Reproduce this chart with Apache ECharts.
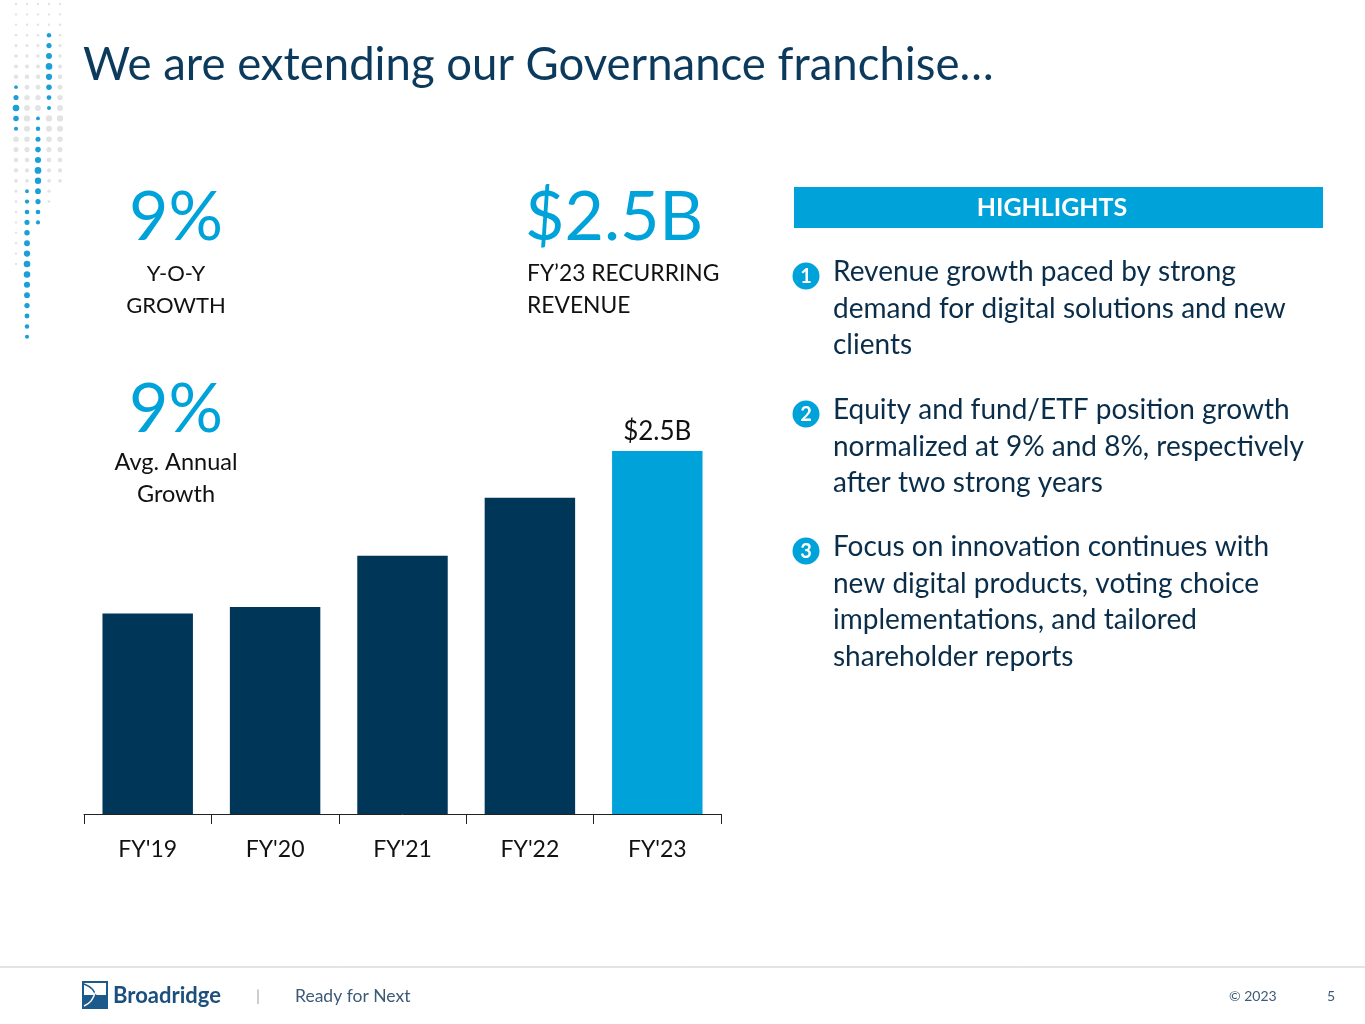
<!DOCTYPE html>
<html>
<head>
<meta charset="utf-8">
<script src="https://cdn.jsdelivr.net/npm/echarts@6/dist/echarts.min.js"></script>
<style>
  html, body { margin: 0; padding: 0; background: #fff; }
  #chart { width: 1365px; height: 1024px; }
</style>
</head>
<body>
<div id="chart"></div>
<script>
// recurring revenue, $B
var years = ["FY'19", "FY'20", "FY'21", "FY'22", "FY'23"];
var revenue = [1.77, 1.80, 2.03, 2.29, 2.50];
var barLabels = ['', '', '', '', '$2.5B'];

var highlights = [
  ['Revenue growth paced by strong', 'demand for digital solutions and new', 'clients'],
  ['Equity and fund/ETF position growth', 'normalized at 9% and 8%, respectively', 'after two strong years'],
  ['Focus on innovation continues with', 'new digital products, voting choice', 'implementations, and tailored', 'shareholder reports']
];

var NAVY = '#003658';
var CYAN = '#00a3d9';
var FONT = 'Lato, "Noto Sans", sans-serif';

var chart = echarts.init(document.getElementById('chart'));

// plain text element, left aligned unless told otherwise
function txt(x, y, text, size, color, align, weight) {
  return {
    type: 'text', x: x, y: y,
    style: {
      text: text, fontSize: size, fill: color, fontFamily: FONT,
      textAlign: align || 'left', textVerticalAlign: 'middle', fontWeight: weight || 'normal'
    }
  };
}

var graphic = [];
// title
graphic.push(txt(83, 65, 'We are extending our Governance franchise…', 45.5, '#0b3a5c'));

// KPIs
graphic.push(txt(176, 218, '9%', 68, CYAN, 'center'));
graphic.push(txt(176, 274, 'Y-O-Y', 22, '#111', 'center'));
graphic.push(txt(176, 306, 'GROWTH', 22, '#111', 'center'));
graphic.push(txt(176, 410, '9%', 68, CYAN, 'center'));
graphic.push(txt(176, 462, 'Avg. Annual', 23.5, '#111', 'center'));
graphic.push(txt(176, 494, 'Growth', 23.5, '#111', 'center'));
graphic.push(txt(525, 218, '$2.5B', 68, CYAN));
graphic.push(txt(527, 274, 'FY\u201923 RECURRING', 22.8, '#111'));
graphic.push(txt(527, 306, 'REVENUE', 22.8, '#111'));

// highlights header
graphic.push({ type: 'rect', shape: { x: 794, y: 187, width: 529, height: 41 }, style: { fill: CYAN } });
graphic.push(txt(1052, 208, 'HIGHLIGHTS', 25, '#fff', 'center', 'bold'));

var startY = [272, 410, 547];
highlights.forEach(function (lines, k) {
  graphic.push({ type: 'circle', shape: { cx: 806, cy: startY[k] + 4, r: 13.5 }, style: { fill: CYAN } });
  graphic.push(txt(806, startY[k] + 5, String(k + 1), 20, '#fff', 'center', 'bold'));
  lines.forEach(function (l, i) {
    graphic.push(txt(833, startY[k] + i * 36.6, l, 28, '#0a2e4a'));
  });
});

// decorative dots
var dotCols = [16, 27, 38, 49, 60];
var blueRuns = { 16: [89, 130], 27: [193, 342], 38: [119, 226], 49: [27, 110] };
for (var c = 0; c < dotCols.length; c++) {
  var cx = dotCols[c];
  for (var y = 4; y < 345; y += 10.4) {
    var run = blueRuns[cx];
    var blue = run && y >= run[0] - 2 && y <= run[1] + 2;
    if (!blue && (y > 265 - c * 20 || (c === 4 && y > 185))) continue;
    var mid = run ? (run[0] + run[1]) / 2 : 150;
    var r = blue ? 1.6 + 1.8 * Math.max(0, 1 - Math.abs(y - mid) / ((run[1] - run[0]) / 1.6)) : 1.2 + 2 * Math.max(0, 1 - Math.abs(y - 120) / 90);
    graphic.push({ type: 'circle', silent: true, shape: { cx: cx, cy: y, r: r }, style: { fill: blue ? '#1a9fd8' : '#e3e3e3' } });
  }
}

// footer
graphic.push({ type: 'line', shape: { x1: 0, y1: 967, x2: 1365, y2: 967 }, style: { stroke: '#c8c8c8', lineWidth: 1 } });
graphic.push({ type: 'rect', shape: { x: 82, y: 981, width: 26, height: 28 }, style: { fill: '#1c5a8c' } });
graphic.push({ type: 'rect', shape: { x: 84, y: 983, width: 22, height: 12 }, style: { fill: '#ffffff' } });
graphic.push({ type: 'bezierCurve', shape: { x1: 84, y1: 984, x2: 106, y2: 1006, cpx1: 100, cpy1: 990, cpx2: 92, cpy2: 1000 }, style: { stroke: '#1c5a8c', lineWidth: 1.5, fill: null } });
graphic.push({ type: 'bezierCurve', shape: { x1: 106, y1: 984, x2: 84, y2: 1006, cpx1: 90, cpy1: 990, cpx2: 98, cpy2: 1000 }, style: { stroke: '#ffffff', lineWidth: 1.5, fill: null } });
graphic.push(txt(113, 996, 'Broadridge', 22, '#1c4f7c', 'left', 'bold'));
graphic.push(txt(256, 996, '|', 16, '#aaaaaa'));
graphic.push(txt(295, 996, 'Ready for Next', 17.5, '#3d5a78'));
graphic.push(txt(1229, 996, '\u00a9 2023', 14, '#3d5a78'));
graphic.push(txt(1327, 996, '5', 14, '#3d5a78'));

chart.setOption({
  animation: false,
  grid: { left: 84, right: 644, top: 451, bottom: 210 },
  xAxis: {
    type: 'category',
    data: years,
    axisLine: { lineStyle: { color: '#222', width: 1 } },
    axisTick: { show: true, length: 10, lineStyle: { color: '#222' } },
    axisLabel: { fontSize: 23, color: '#111', fontFamily: FONT, margin: 24 }
  },
  yAxis: {
    type: 'value', min: 0.87, max: 2.5, show: false, splitLine: { show: false }
  },
  series: [{
    type: 'bar',
    barWidth: '71%',
    data: revenue.map(function (v, i) {
      return { value: v, itemStyle: { color: i === revenue.length - 1 ? CYAN : NAVY } };
    }),
    label: {
      show: true, position: 'top', distance: 6, fontSize: 26, color: '#111', fontFamily: FONT,
      formatter: function (p) { return barLabels[p.dataIndex]; }
    }
  }],
  graphic: graphic
});
</script>
</body>
</html>
